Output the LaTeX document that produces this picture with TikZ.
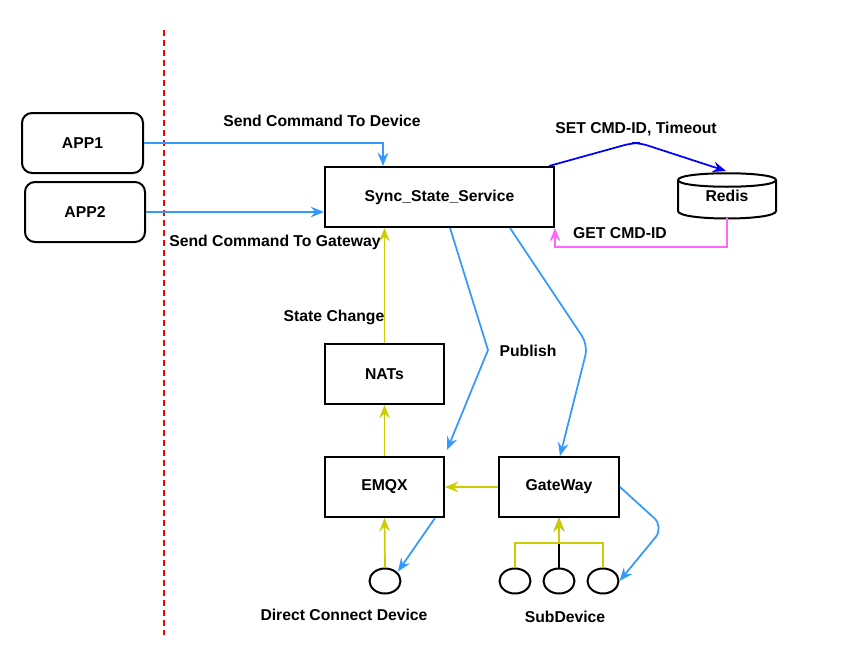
\documentclass[tikz,border=0pt]{standalone}
\usepackage{fontspec}
\setmainfont{Liberation Sans}
\usetikzlibrary{arrows.meta,shapes.geometric}

\definecolor{cBlue}{RGB}{51,153,255}
\definecolor{cDeep}{RGB}{0,0,255}
\definecolor{cPink}{RGB}{255,102,255}
\definecolor{cOlive}{RGB}{204,204,0}
\definecolor{cRed}{RGB}{255,0,0}

\tikzset{every picture/.style={line width=0.75pt}}
\tikzset{
  box/.style={draw, line width=1.5pt, minimum width=120*0.75pt, minimum height=60*0.75pt, inner sep=0pt, font=\fontsize{11.8}{14}\selectfont\bfseries},
  appbox/.style={box, rounded corners=7.5pt},
  dev/.style={draw, ellipse, line width=1.5pt, minimum width=31*0.75pt, minimum height=25*0.75pt, inner sep=0pt},
  lbl/.style={inner sep=0.75pt, font=\fontsize{11.8}{14}\selectfont\bfseries},
  conn/.style={line width=1.3pt, -{Stealth[length=10pt,width=8pt,inset=3.5pt]}}
}

\begin{document}
\begin{tikzpicture}[x=0.75pt,y=0.75pt,yscale=-1,xscale=1]
\useasboundingbox (0,0) rectangle (846,646);

%Straight Lines (boundary)
\draw [cRed, line width=1.5pt, dash pattern=on 4.5pt off 3pt] (164,30) -- (164,635) ;

%Shapes
\node (app1) [appbox, minimum width=121*0.75pt] at (82.5,143) {APP1};
\node (app2) [appbox] at (85,212) {APP2};
\node (sync) [box, minimum width=229*0.75pt] at (439.5,197) {Sync\_State\_Service};
\node (nats) [box, minimum width=119*0.75pt] at (384.5,374) {NATs};
\node (emqx) [box, minimum width=119*0.75pt] at (384.5,487) {EMQX};
\node (gw) [box] at (559,487) {GateWay};
\node (ddev) [dev] at (385,581) {};
\node (sub1) [dev] at (515,581) {};
\node (sub2) [dev] at (559,581) {};
\node (sub3) [dev] at (603,581) {};

%Shape: Cylinder
\node (redis) [minimum width=98*0.75pt, minimum height=46*0.75pt, inner sep=0pt, font=\fontsize{11.8}{14}\selectfont\bfseries] at (727,196) {\raisebox{-3pt}{Redis}};
\draw [line width=1.5pt] (678,180) coordinate (rtl)
  .. controls (678,171) and (776,171) .. (776,180)
  -- (776,211) .. controls (776,221) and (678,221) .. (678,211) -- cycle ;
\draw [line width=1.5pt] (rtl) .. controls (678,189) and (776,189) .. (776,180) ;
\coordinate (rtop) at (726,171);
\coordinate (rbot) at (727,218);

%Connectors
\draw [conn, cBlue] (app1.east) -| ([xshift=-42.4pt]sync.north) ;
\draw [conn, cBlue] (app2.east) -- (app2.east -| sync.west) ;
\draw [conn, cDeep, rounded corners=6] ([xshift=-4.5pt]sync.north east) -- (632,143) -- (640,143) -- (rtop) ;
\draw [conn, cPink] (rbot) -- (727,247) -| (sync.south east) ;
\draw [conn, cOlive] (nats.north) -- (sync.south -| nats.north) ;
\draw [conn, cOlive] (emqx.north) -- (nats.south) ;
\draw [conn, cBlue] ([xshift=7.9pt]sync.south) -- (488,350) -- ([xshift=1.5pt,yshift=-4.5pt]emqx.north east) ;
\draw [conn, cBlue, rounded corners=8] ([xshift=52.9pt]sync.south) -- (588,345) -- ([xshift=0.75pt]gw.north) ;
\draw [conn, cOlive] (gw.west) -- (emqx.east) ;
\draw [conn, cBlue] ([xshift=-7.5pt]emqx.south east) -- ([xshift=1pt]ddev.north east) ;
\draw [conn, cOlive] (ddev.north) -- (emqx.south) ;
\draw [conn, black] (sub2.north) -- (gw.south) ;
\draw [conn, cOlive] (sub1.north) |- (559,543) -- (gw.south) ;
\draw [conn, cOlive] (sub3.north) |- (559,543) -- (gw.south) ;
\draw [conn, cBlue, rounded corners=10] (gw.east) -- (664,527) -- (sub3.east) ;

% Text Nodes
\node (t1) [lbl] at (322,121) {Send Command To Device};
\node (t2) [lbl] at (636,129) {SET CMD-ID, Timeout};
\node (t3) [lbl] at (620,233) {GET CMD-ID};
\node (t4) [lbl] at (275,242) {Send Command To Gateway};
\node (t5) [lbl] at (334,317) {State Change};
\node (t6) [lbl] at (528,351) {Publish};
\node (t7) [lbl] at (344,615) {Direct Connect Device};
\node (t8) [lbl] at (565,617) {SubDevice};

\end{tikzpicture}
\end{document}
